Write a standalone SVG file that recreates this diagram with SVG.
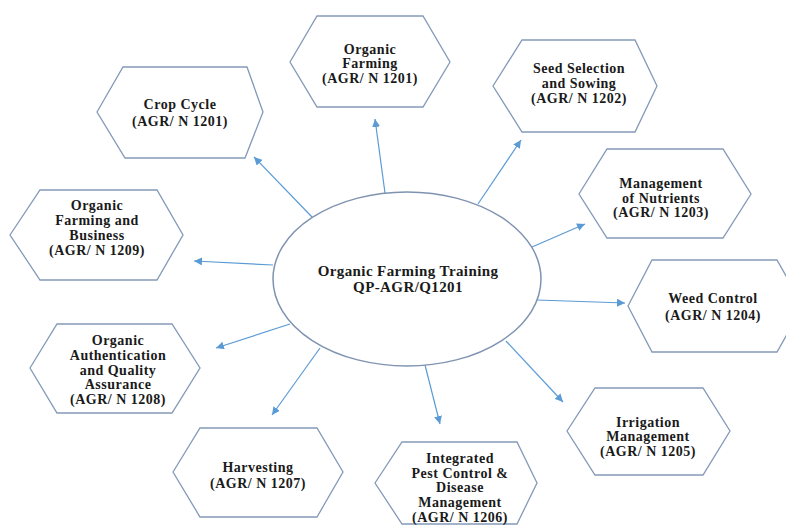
<svg xmlns="http://www.w3.org/2000/svg" width="786" height="527" viewBox="0 0 786 527">
<style>
.hex{fill:#ffffff;stroke:#8499b8;stroke-width:1.3}
.ell{fill:#ffffff;stroke:#7f93b0;stroke-width:1.5}
.t{font-family:"Liberation Serif","Times New Roman",serif;font-weight:bold;font-size:14px;fill:#1a1a1a;text-anchor:middle;letter-spacing:0.5px}
.c{font-size:15px;letter-spacing:0.4px}
.arr{stroke:#5b9bd5;stroke-width:1.2;fill:none;marker-end:url(#ah)}
</style>
<defs>
<marker id="ah" markerUnits="userSpaceOnUse" markerWidth="9" markerHeight="8" refX="8" refY="4" orient="auto">
<path d="M0,0 L8,4 L0,8 z" fill="#5b9bd5"/>
</marker>
</defs>
<rect width="786" height="527" fill="#ffffff"/>
<g id="connectors">
<line class="arr" x1="312" y1="217" x2="254" y2="157"/>
<line class="arr" x1="385" y1="193" x2="375" y2="119"/>
<line class="arr" x1="478" y1="204" x2="521" y2="140"/>
<line class="arr" x1="532" y1="247" x2="585" y2="224"/>
<line class="arr" x1="537" y1="300" x2="625" y2="303"/>
<line class="arr" x1="506" y1="341" x2="563" y2="402"/>
<line class="arr" x1="425" y1="365" x2="440" y2="424"/>
<line class="arr" x1="320" y1="348" x2="272" y2="415"/>
<line class="arr" x1="290" y1="324" x2="216" y2="348"/>
<line class="arr" x1="273" y1="265" x2="194" y2="261"/>
</g>
<g id="center">
<ellipse class="ell" cx="407" cy="279" rx="134" ry="87"/>
<text class="t c" x="408" y="276">Organic Farming Training</text>
<text class="t c" x="408" y="292">QP-AGR/Q1201</text>
</g>
<g id="crop-cycle">
<path class="hex" d="M97,112 L123,67 L247,67 L263,112 L245,158 L125,158 Z"/>
<text class="t" x="180" y="109">Crop Cycle</text>
<text class="t" x="180" y="126">(AGR/ N 1201)</text>
</g>
<g id="organic-farming">
<path class="hex" d="M290,62 L317,16 L423,16 L450,62 L423,107 L317,107 Z"/>
<text class="t" x="370" y="54">Organic</text>
<text class="t" x="370" y="68">Farming</text>
<text class="t" x="370" y="83">(AGR/ N 1201)</text>
</g>
<g id="seed-selection">
<path class="hex" d="M493,86 L522,40 L635,40 L657,86 L635,132 L522,132 Z"/>
<text class="t" x="579" y="73">Seed Selection</text>
<text class="t" x="579" y="88">and Sowing</text>
<text class="t" x="579" y="103">(AGR/ N 1202)</text>
</g>
<g id="nutrients">
<path class="hex" d="M579,194 L607,149 L723,149 L751,194 L723,238 L607,238 Z"/>
<text class="t" x="661" y="188">Management</text>
<text class="t" x="661" y="203">of Nutrients</text>
<text class="t" x="661" y="217">(AGR/ N 1203)</text>
</g>
<g id="weed-control">
<path class="hex" d="M628,306 L652,260 L777,260 L803,306 L777,352 L652,352 Z"/>
<text class="t" x="713" y="303">Weed Control</text>
<text class="t" x="713" y="320">(AGR/ N 1204)</text>
</g>
<g id="irrigation">
<path class="hex" d="M567,431 L595,388 L703,388 L730,431 L703,475 L595,475 Z"/>
<text class="t" x="648" y="427">Irrigation</text>
<text class="t" x="648" y="441">Management</text>
<text class="t" x="648" y="456">(AGR/ N 1205)</text>
</g>
<g id="pest-control">
<path class="hex" d="M375,483 L402,442 L517,442 L537,483 L517,524 L402,524 Z"/>
<text class="t" x="460" y="463">Integrated</text>
<text class="t" x="460" y="478">Pest Control &amp;</text>
<text class="t" x="460" y="492">Disease</text>
<text class="t" x="460" y="507">Management</text>
<text class="t" x="460" y="522">(AGR/ N 1206)</text>
</g>
<g id="harvesting">
<path class="hex" d="M173,472 L200,428 L317,428 L343,472 L317,517 L200,517 Z"/>
<text class="t" x="258" y="472">Harvesting</text>
<text class="t" x="258" y="488">(AGR/ N 1207)</text>
</g>
<g id="authentication">
<path class="hex" d="M30,368 L57,324 L172,324 L200,368 L172,413 L57,413 Z"/>
<text class="t" x="118" y="345">Organic</text>
<text class="t" x="118" y="360">Authentication</text>
<text class="t" x="118" y="375">and Quality</text>
<text class="t" x="118" y="389">Assurance</text>
<text class="t" x="118" y="404">(AGR/ N 1208)</text>
</g>
<g id="farming-business">
<path class="hex" d="M10,235 L40,190 L157,190 L183,235 L157,280 L40,280 Z"/>
<text class="t" x="97" y="210">Organic</text>
<text class="t" x="97" y="225">Farming and</text>
<text class="t" x="97" y="240">Business</text>
<text class="t" x="97" y="255">(AGR/ N 1209)</text>
</g>
</svg>
